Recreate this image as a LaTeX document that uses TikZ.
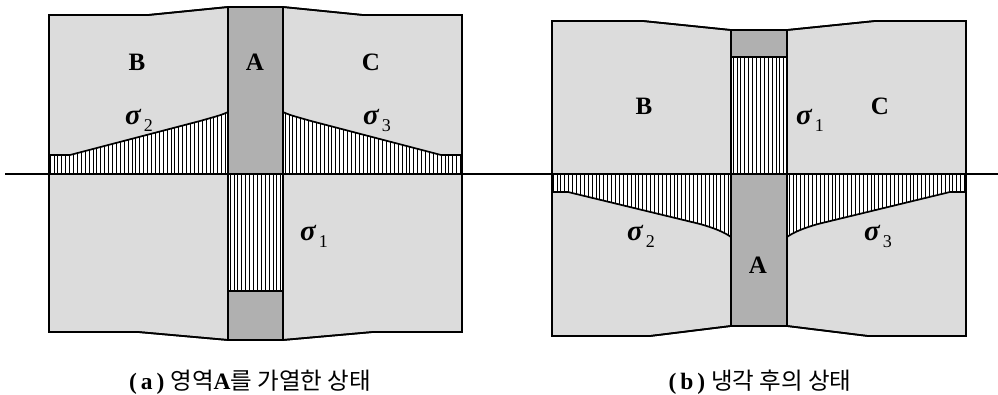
\documentclass[tikz,border=0pt]{standalone}
\usepackage{fontspec}
\setmainfont{Liberation Serif}
\newfontfamily\kr{Noto Sans CJK KR}
\definecolor{light}{HTML}{DCDCDC}
\definecolor{dark}{HTML}{B0B0B0}
\newcommand{\sig}[1]{{\fontsize{29}{29}\selectfont\bfseries\itshape σ}\kern3pt\raisebox{-7pt}{\fontsize{18}{18}\selectfont #1}}
\tikzset{
  body/.style={fill=light, draw=black, line width=1.7pt, line join=miter},
  core/.style={fill=dark, draw=black, line width=1.7pt},
  hatchline/.style={line width=0.8pt},
  edge/.style={draw=black, line width=1.7pt},
  lbl/.style={font=\fontsize{25}{25}\selectfont\bfseries, inner sep=0pt},
  sg/.style={inner sep=0pt},
  captext/.style={font=\fontsize{23.5}{23.5}\selectfont, inner sep=0pt}
}
\newcommand{\hatchfill}[3]{% path, xmin, xmax
  \begin{scope}
    \clip #1;
    \fill[white] #1;
    \pgfmathsetmacro{\hxnext}{#2+3.9}
    \foreach \hx in {#2,\hxnext,...,#3} \draw[hatchline] (\hx,0) -- (\hx,400);
  \end{scope}}
\begin{document}
\begin{tikzpicture}[x=1pt,y=-1pt]
\useasboundingbox (0,0) rectangle (998,395);
% ---------- panel (a) ----------
\path[body] (49,15) -- (148,15) -- (228,7) -- (228,340) -- (138,332) -- (49,332) -- cycle;
\path[body] (283,7) -- (363,15) -- (462,15) -- (462,332) -- (373,332) -- (283,340) -- cycle;
\path[core] (228,7) rectangle (283,340);
\hatchfill{(49,174) -- (49,155) -- (70,155) -- (200,121) .. controls (214,117) and (222,115) .. (228,112) -- (228,174) -- cycle}{50}{228}
\hatchfill{(462,174) -- (462,155) -- (441,155) -- (311,121) .. controls (297,117) and (289,115) .. (283,112) -- (283,174) -- cycle}{285}{462}
\hatchfill{(228,174) rectangle (283,291)}{230}{283}
\draw[edge] (49,155) -- (70,155) -- (200,121) .. controls (214,117) and (222,115) .. (228,112);
\draw[edge] (462,155) -- (441,155) -- (311,121) .. controls (297,117) and (289,115) .. (283,112);
\draw[edge] (228,291) -- (283,291);
\draw[edge] (49,15) -- (148,15) -- (228,7) -- (283,7) -- (363,15) -- (462,15) -- (462,332) -- (373,332) -- (283,340) -- (228,340) -- (138,332) -- (49,332) -- cycle;
\draw[edge] (228,7) -- (228,340) (283,7) -- (283,340);
\node[lbl] (aB) at (137,62) {B};
\node[lbl] (aA) at (255,62) {A};
\node[lbl] (aC) at (371,62) {C};
\node[sg] (as2) at (139,120) {\sig{2}};
\node[sg] (as3) at (377,120) {\sig{3}};
\node[sg] (as1) at (314,236) {\sig{1}};
\node[captext] (capa) at (250,382) {\textbf{(}\kern4pt\textbf{a}\kern4pt\textbf{)} {\kr 영역}\textbf{A}{\kr 를 가열한 상태}};
% ---------- panel (b) ----------
\path[body] (552,21) -- (643,21) -- (731,30) -- (731,326) -- (650,336) -- (552,336) -- cycle;
\path[body] (787,30) -- (875,21) -- (966,21) -- (966,336) -- (868,336) -- (787,326) -- cycle;
\path[core] (731,30) rectangle (787,326);
\hatchfill{(731,57) rectangle (787,174)}{733}{787}
\hatchfill{(552,174) -- (552,192) -- (568,192) -- (700,224) .. controls (714,228) and (724,232) .. (731,237) -- (731,174) -- cycle}{553}{731}
\hatchfill{(966,174) -- (966,192) -- (950,192) -- (818,224) .. controls (804,228) and (794,232) .. (787,237) -- (787,174) -- cycle}{789}{966}
\draw[edge] (731,57) -- (787,57);
\draw[edge] (552,192) -- (568,192) -- (700,224) .. controls (714,228) and (724,232) .. (731,237);
\draw[edge] (966,192) -- (950,192) -- (818,224) .. controls (804,228) and (794,232) .. (787,237);
\draw[edge] (552,21) -- (643,21) -- (731,30) -- (787,30) -- (875,21) -- (966,21) -- (966,336) -- (868,336) -- (787,326) -- (731,326) -- (650,336) -- (552,336) -- cycle;
\draw[edge] (731,30) -- (731,326) (787,30) -- (787,326);
\node[lbl] (bB) at (644,106) {B};
\node[lbl] (bC) at (880,106) {C};
\node[lbl] (bA) at (758,265) {A};
\node[sg] (bs1) at (810,120) {\sig{1}};
\node[sg] (bs2) at (641,236) {\sig{2}};
\node[sg] (bs3) at (878,236) {\sig{3}};
\node[captext] (capb) at (760,382) {\textbf{(}\kern4pt\textbf{b}\kern4pt\textbf{)} {\kr 냉각 후의 상태}};
% ---------- axis ----------
\coordinate (axL) at (5,174);
\coordinate (axR) at (998,174);
\draw[edge] (axL) -- (axR);
\end{tikzpicture}
\end{document}
